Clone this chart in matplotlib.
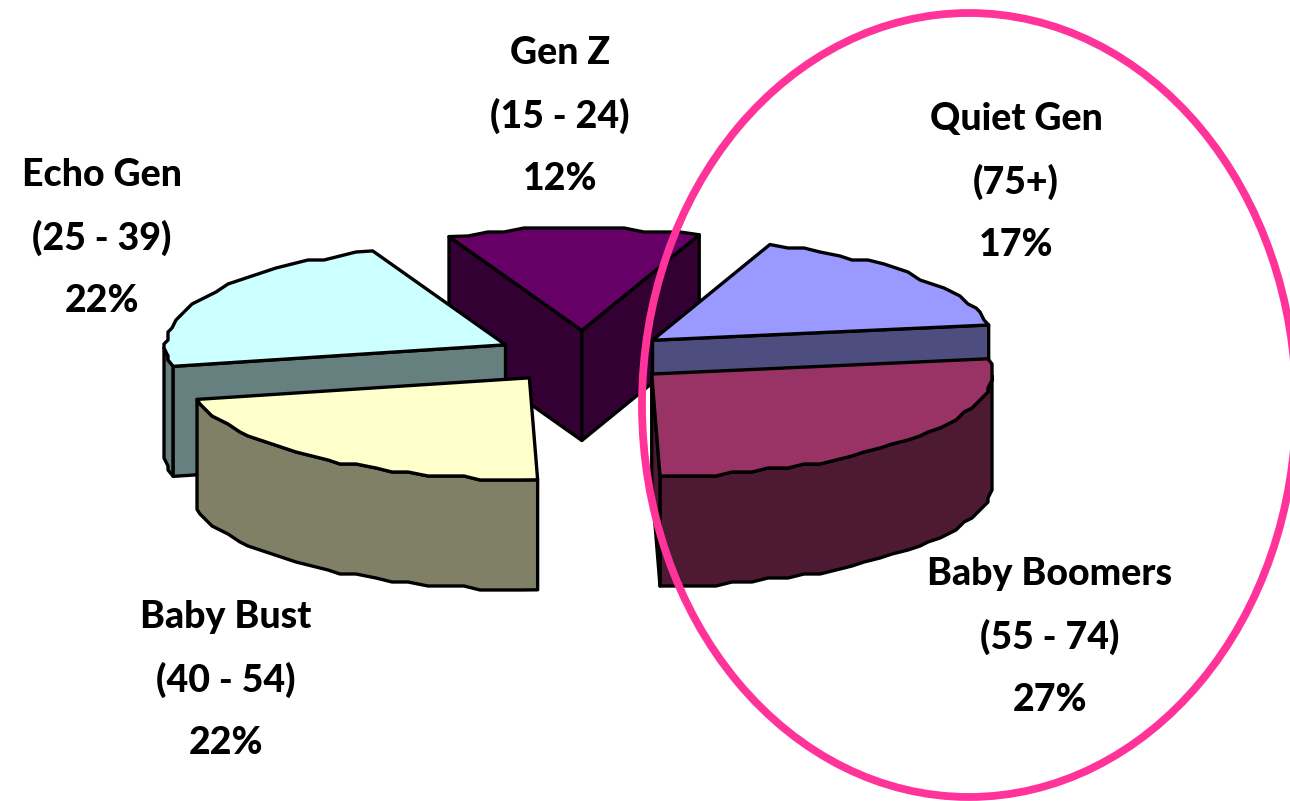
import numpy as np
import matplotlib
matplotlib.use("Agg")
import matplotlib.pyplot as plt
from matplotlib.patches import Polygon, Ellipse

# share of each generation, clockwise from the top
names = ["Gen Z", "Quiet Gen", "Baby Boomers", "Baby Bust", "Echo Gen"]
ages = ["(15 - 24)", "(75+)", "(55 - 74)", "(40 - 54)", "(25 - 39)"]
shares = [12, 17, 27, 22, 22]
top_colors = ["#660066", "#9999FF", "#993366", "#FFFFCC", "#CCFFFF"]
side_colors = ["#330033", "#4D4D80", "#4D1933", "#808066", "#668080"]

label_x = [560, 1016, 1050, 226, 102]
label_y = [53, 119, 574, 617, 175]
line_gap = 63

cx, cy = 584, 357
rx, ry = 340, 102
depth = 110
explode = 0.26
start = -23
grid = 4  # the original's curves are coarse, snap them to a grid


def pt(ang, ox=0, oy=0, r=1.0):
    a = np.radians(ang)
    return ox + cx + r * rx * np.sin(a), oy + cy - r * ry * np.cos(a)


def snap(p):
    return round(p[0] / grid) * grid, round(p[1] / grid) * grid


def down(p):
    return p[0], p[1] + depth


fig = plt.figure(figsize=(12.9, 8.01), dpi=100)
ax = fig.add_axes([0, 0, 1, 1])
ax.set_xlim(0, 1290)
ax.set_ylim(801, 0)
ax.axis("off")

edges = np.cumsum([0] + shares) / sum(shares) * 360 + start
# back slices first, front ones last
order = [0, 1, 4, 2, 3]
for i in order:
    a0, a1 = edges[i], edges[i + 1]
    mid = (a0 + a1) / 2
    ox = explode * rx * np.sin(np.radians(mid))
    oy = -explode * ry * np.cos(np.radians(mid))
    n = max(int((a1 - a0) / 3), 4)
    angs = np.linspace(a0, a1, n)
    arc = [pt(a0, ox, oy)] + [snap(pt(a, ox, oy)) for a in angs[1:-1]] + [pt(a1, ox, oy)]
    apex = pt(0, ox, oy, 0)
    inner = pt(mid, ox, oy, 0.5)
    kw = dict(facecolor=side_colors[i], edgecolor="black", lw=2.4, joinstyle="round")
    # outer wall: only the part facing the viewer
    front = [p for p, a in zip(arc, angs) if 90 <= a <= 270]
    if len(front) > 1:
        ax.add_patch(Polygon(front + [down(p) for p in front[::-1]], **kw))
    # cut faces: only when the slice top lies above the cut line
    for p in [arc[0], arc[-1]]:
        if p[0] == apex[0]:
            continue
        line_y = apex[1] + (inner[0] - apex[0]) * (p[1] - apex[1]) / (p[0] - apex[0])
        if inner[1] < line_y:
            ax.add_patch(Polygon([apex, p, down(p), down(apex)], **kw))
    ax.add_patch(Polygon([apex] + arc, facecolor=top_colors[i], edgecolor="black",
                         lw=2.4, joinstyle="round"))

for i in range(len(names)):
    lines = [names[i], ages[i], "%d%%" % shares[i]]
    for j in range(3):
        ax.text(label_x[i], label_y[i] + j * line_gap, lines[j], ha="center", va="center",
                family="Lato", weight="black", fontsize=27, color="black")

ax.add_patch(Ellipse((969, 405), 654, 784, fill=False, edgecolor="#FF3399", lw=5.6))

fig.savefig("out.png", dpi=100)
